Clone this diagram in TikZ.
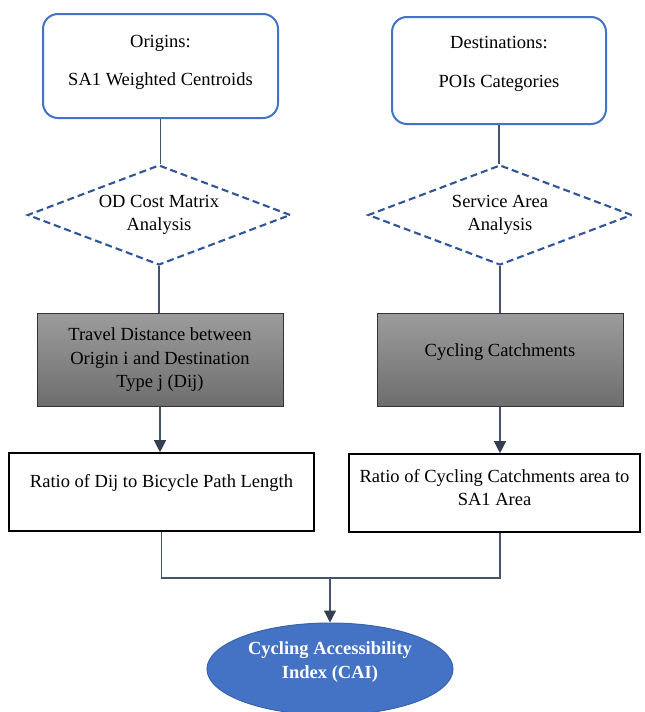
\documentclass[tikz,border=0pt]{standalone}
\usepackage{fontspec}
\setmainfont{Liberation Serif}
\usetikzlibrary{shapes.geometric,arrows.meta}

\definecolor{boxblue}{HTML}{4472C4}
\definecolor{dashblue}{HTML}{2F5597}
\definecolor{linkgray}{HTML}{44546A}
\definecolor{tipdark}{HTML}{333F50}
\definecolor{graytop}{HTML}{9C9C9C}
\definecolor{graybot}{HTML}{6E6E6E}
\definecolor{ovalrim}{HTML}{3A63AD}

\tikzset{
  txt/.style={font=\fontsize{18.5}{23.5}\selectfont, align=center, inner sep=0pt},
  inputbox/.style={draw=boxblue, line width=2pt, rounded corners=15pt, inner sep=0pt},
  decision/.style={shape=diamond, draw=dashblue, line width=2.1pt, dash pattern=on 7pt off 4pt,
                   inner sep=0pt, txt},
  graybox/.style={draw=black!80, line width=1pt, top color=graytop, bottom color=graybot, inner sep=0pt},
  resultbox/.style={draw=black, line width=1.6pt, fill=white, inner sep=0pt},
  finaloval/.style={shape=ellipse, draw=ovalrim, line width=1pt, fill=boxblue, inner sep=0pt},
  link/.style={draw=linkgray, line width=1.2pt},
  arr/.style={link, -{Triangle[length=12pt,width=12pt,color=tipdark]}},
}

\begin{document}
\begin{tikzpicture}[x=1pt, y=-1pt]
\useasboundingbox (0,0) rectangle (645,712);
\fill[white] (0,0) rectangle (645,712);

% inputs
\node[inputbox, minimum width=235pt, minimum height=104pt] (orig) at (160.5,66) {};
\node[txt] (origtxt) at (160.5,62) {Origins:\\[14.5pt]SA1 Weighted Centroids};
\node[inputbox, minimum width=214pt, minimum height=107pt] (dest) at (499,70.5) {};
\node[txt] (desttxt) at (499,63.5) {Destinations:\\[15.5pt]POIs Categories};

% analyses
\node[decision, minimum width=263pt, minimum height=100pt, aspect=2.63] (odcm) at (159,215)
  {OD Cost Matrix\\Analysis};
\node[decision, minimum width=264pt, minimum height=100pt, aspect=2.64] (sarea) at (500,215)
  {Service Area\\Analysis};

% intermediate outputs
\node[graybox, minimum width=246pt, minimum height=93pt] (dist) at (160,359.5) {};
\node[txt] (disttxt) at (160,360) {Travel Distance between\\Origin i and Destination\\Type j (Dij)};
\node[graybox, minimum width=246pt, minimum height=93pt] (catch) at (500,359.5) {};
\node[txt] (catchtxt) at (500,352) {Cycling Catchments};

% ratios
\node[resultbox, minimum width=305pt, minimum height=78pt] (ratio1) at (161.5,492) {};
\node[txt] (ratio1txt) at (161.5,483) {Ratio of Dij to Bicycle Path Length};
\node[resultbox, minimum width=291pt, minimum height=78pt] (ratio2) at (494.5,493) {};
\node[txt] (ratio2txt) at (494.5,487.5) {Ratio of Cycling Catchments area to\\SA1 Area};

% index
\node[finaloval, minimum width=246pt, minimum height=92pt] (cai) at (330,669) {};
\node[txt, text=white, font=\fontsize{18.5}{24}\selectfont\bfseries] (caitxt) at (330,662)
  {Cycling Accessibility\\Index (CAI)};

% connectors
\coordinate (join) at (330,578);
\draw[link] (orig.south) -- (orig.south |- odcm.north);
\draw[link] (odcm.south) -- (odcm.south |- dist.north);
\draw[arr] (dist.south) -- (dist.south |- ratio1.north);
\draw[link] (dest.south) -- (dest.south |- sarea.north);
\draw[link] (sarea.south) -- (sarea.south |- catch.north);
\draw[arr] (catch.south) -- (catch.south |- ratio2.north);
\draw[link] (ratio1.south) |- (join -| catch.south) -- (ratio2.south -| catch.south);
\draw[arr] (join) -- (cai.north);
\end{tikzpicture}
\end{document}
